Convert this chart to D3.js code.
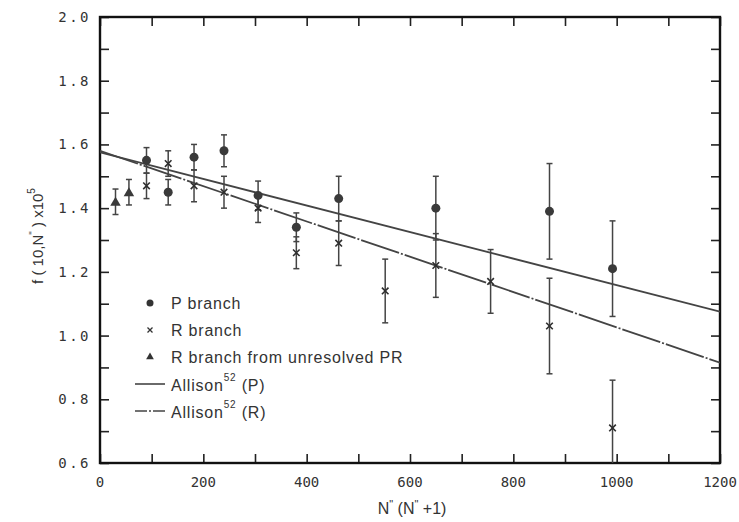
<!DOCTYPE html>
<html>
<head>
<meta charset="utf-8">
<script src="https://cdn.jsdelivr.net/npm/d3@7"></script>
<style>
  body { margin: 0; background: #fff; }
  svg { display: block; }
  .tick-label { font-family: "DejaVu Sans Mono", monospace; font-size: 14px; fill: #333; }
  .legend text { font-family: "Liberation Sans", Arial, sans-serif; font-size: 16px; letter-spacing: 0.8px; fill: #333; }
  .title { font-family: "Liberation Sans", Arial, sans-serif; fill: #333; }
</style>
</head>
<body>
<svg id="chart" width="739" height="522"></svg>
<script>
// P branch: N''(N''+1), f(10,N'') x10^5, error
const pN = [90, 132, 182, 240, 306, 380, 462, 650, 870, 992];
const pF = [1.55, 1.45, 1.56, 1.58, 1.44, 1.34, 1.43, 1.40, 1.39, 1.21];
const pErr = [0.04, 0.04, 0.04, 0.05, 0.045, 0.045, 0.07, 0.10, 0.15, 0.15];

// R branch
const rN = [90, 132, 182, 240, 306, 380, 462, 552, 650, 756, 870, 992];
const rF = [1.47, 1.54, 1.47, 1.45, 1.40, 1.26, 1.29, 1.14, 1.22, 1.17, 1.03, 0.71];
const rErr = [0.04, 0.04, 0.05, 0.05, 0.045, 0.05, 0.07, 0.10, 0.10, 0.10, 0.15, 0.15];

// R branch from unresolved PR
const uN = [30, 56];
const uF = [1.42, 1.45];
const uErr = [0.04, 0.04];

// Allison (ref. 52) fitted lines
const allisonP = [[0, 1.575], [1200, 1.075]];
const allisonR = [[0, 1.58], [1200, 0.915]];

const xTicks = [0, 200, 400, 600, 800, 1000, 1200];
const yTicks = [0.6, 0.8, 1.0, 1.2, 1.4, 1.6, 1.8, 2.0];

const svg = d3.select('#chart');
const margin = { top: 17, right: 19, bottom: 59, left: 100 };
const width = 739, height = 522;
const ink = '#333';

const x = d3.scaleLinear().domain([0, 1200]).range([margin.left, width - margin.right]);
const y = d3.scaleLinear().domain([0.6, 2.0]).range([height - margin.bottom, margin.top]);

svg.append('clipPath').attr('id', 'plot-clip')
  .append('rect')
  .attr('x', x(0)).attr('y', y(2.0))
  .attr('width', x(1200) - x(0)).attr('height', y(0.6) - y(2.0));

// inward ticks on all four sides, using d3 axes
const tickLen = 9;
const minorX = d3.range(0, 1201, 100);
const minorY = d3.range(0, 15).map(i => +(0.6 + i * 0.1).toFixed(1));

function styleAxis(g) {
  g.selectAll('.tick line').attr('stroke', '#222').attr('stroke-width', 1.6);
  g.select('.domain').remove();
}
svg.append('g').attr('transform', `translate(0,${y(0.6)})`)
  .call(d3.axisBottom(x).tickValues(minorX).tickSize(-tickLen).tickFormat(''))
  .call(styleAxis);
svg.append('g').attr('transform', `translate(0,${y(2.0)})`)
  .call(d3.axisTop(x).tickValues(minorX).tickSize(-tickLen).tickFormat(''))
  .call(styleAxis);
svg.append('g').attr('transform', `translate(${x(0)},0)`)
  .call(d3.axisLeft(y).tickValues(minorY).tickSize(-tickLen).tickFormat(''))
  .call(styleAxis);
svg.append('g').attr('transform', `translate(${x(1200)},0)`)
  .call(d3.axisRight(y).tickValues(minorY).tickSize(-tickLen).tickFormat(''))
  .call(styleAxis);

// frame
svg.append('rect')
  .attr('x', x(0)).attr('y', y(2.0))
  .attr('width', x(1200) - x(0)).attr('height', y(0.6) - y(2.0))
  .attr('fill', 'none').attr('stroke', '#111').attr('stroke-width', 2.4);

// tick labels
svg.selectAll('text.ylab').data(yTicks).enter().append('text')
  .attr('class', 'tick-label ylab')
  .attr('x', x(0) - 9).attr('y', d => y(d) + 5)
  .attr('text-anchor', 'end')
  .attr('letter-spacing', 2.5)
  .text(d => d.toFixed(1));
svg.selectAll('text.xlab').data(xTicks).enter().append('text')
  .attr('class', 'tick-label xlab')
  .attr('x', d => x(d)).attr('y', y(0.6) + 24)
  .attr('text-anchor', 'middle')
  .attr('letter-spacing', 0)
  .text(d => d);

// Allison lines
const line = d3.line().x(d => x(d[0])).y(d => y(d[1]));
const plot = svg.append('g').attr('clip-path', 'url(#plot-clip)');
plot.append('path').attr('d', line(allisonP))
  .attr('fill', 'none').attr('stroke', '#444').attr('stroke-width', 1.8);
plot.append('path').attr('d', line(allisonR))
  .attr('fill', 'none').attr('stroke', '#444').attr('stroke-width', 1.8)
  .attr('stroke-dasharray', '40,2,2,2');

// error bars
function errorBars(ns, fs, es) {
  const g = plot.append('g').attr('stroke', '#444').attr('stroke-width', 1.5);
  ns.forEach((n, i) => {
    const cx = x(n), lo = y(fs[i] - es[i]), hi = y(fs[i] + es[i]);
    g.append('line').attr('x1', cx).attr('x2', cx).attr('y1', lo).attr('y2', hi);
    g.append('line').attr('x1', cx - 3).attr('x2', cx + 3).attr('y1', lo).attr('y2', lo);
    g.append('line').attr('x1', cx - 3).attr('x2', cx + 3).attr('y1', hi).attr('y2', hi);
  });
}
errorBars(pN, pF, pErr);
errorBars(rN, rF, rErr);
errorBars(uN, uF, uErr);

// markers
plot.selectAll('circle.p').data(pN).enter().append('circle')
  .attr('class', 'p')
  .attr('cx', d => x(d)).attr('cy', (d, i) => y(pF[i])).attr('r', 4.5)
  .attr('fill', '#3a3a3a');

const cross = d3.symbol().type(d3.symbolTimes).size(30);
plot.selectAll('path.r').data(rN).enter().append('path')
  .attr('class', 'r')
  .attr('d', cross)
  .attr('transform', (d, i) => `translate(${x(d)},${y(rF[i])})`)
  .attr('fill', 'none').attr('stroke', '#2e2e2e').attr('stroke-width', 1.6);

const tri = d3.symbol().type(d3.symbolTriangle).size(48);
plot.selectAll('path.u').data(uN).enter().append('path')
  .attr('class', 'u')
  .attr('d', tri)
  .attr('transform', (d, i) => `translate(${x(d)},${y(uF[i]) + 1})`)
  .attr('fill', '#3a3a3a');

// legend
const lg = svg.append('g').attr('class', 'legend');
const lx = 150, tx = 171;
const rows = [303, 330, 357, 384, 411];
lg.append('circle').attr('cx', lx).attr('cy', rows[0]).attr('r', 3.5).attr('fill', ink);
lg.append('path').attr('d', d3.symbol().type(d3.symbolTimes).size(18))
  .attr('transform', `translate(${lx},${rows[1]})`)
  .attr('fill', 'none').attr('stroke', ink).attr('stroke-width', 1.3);
lg.append('path').attr('d', d3.symbol().type(d3.symbolTriangle).size(26))
  .attr('transform', `translate(${lx},${rows[2]})`).attr('fill', ink);
lg.append('line').attr('x1', 135).attr('x2', 165).attr('y1', rows[3]).attr('y2', rows[3])
  .attr('stroke', '#444').attr('stroke-width', 1.6);
lg.append('line').attr('x1', 135).attr('x2', 165).attr('y1', rows[4]).attr('y2', rows[4])
  .attr('stroke', '#444').attr('stroke-width', 1.6).attr('stroke-dasharray', '12,2,2,2');

lg.append('text').attr('x', tx).attr('y', rows[0] + 6).text('P branch');
lg.append('text').attr('x', tx).attr('y', rows[1] + 6).text('R branch');
lg.append('text').attr('x', tx).attr('y', rows[2] + 6).text('R branch from unresolved PR');
['P', 'R'].forEach((s, i) => {
  const t = lg.append('text').attr('x', tx).attr('y', rows[3 + i] + 7);
  t.append('tspan').text('Allison');
  t.append('tspan').attr('dy', -10).attr('font-size', 10).text('52');
  t.append('tspan').attr('dy', 10).text(' (' + s + ')');
});

// axis titles
const xt = svg.append('text').attr('class', 'title')
  .attr('x', 412).attr('y', 514).attr('text-anchor', 'middle').attr('font-size', 16);
xt.append('tspan').text('N');
xt.append('tspan').attr('dy', -6).attr('font-size', 11).text('"');
xt.append('tspan').attr('dy', 6).text(' (N');
xt.append('tspan').attr('dy', -6).attr('font-size', 11).text('"');
xt.append('tspan').attr('dy', 6).text(' +1)');

const yt = svg.append('text').attr('class', 'title')
  .attr('transform', 'translate(43,236) rotate(-90)')
  .attr('text-anchor', 'middle').attr('font-size', 15);
yt.append('tspan').text('f ( 10,N');
yt.append('tspan').attr('dy', -6).attr('font-size', 10).text('"');
yt.append('tspan').attr('dy', 6).text(' ) x10');
yt.append('tspan').attr('dy', -8).attr('font-size', 10).text('5');
</script>
</body>
</html>
